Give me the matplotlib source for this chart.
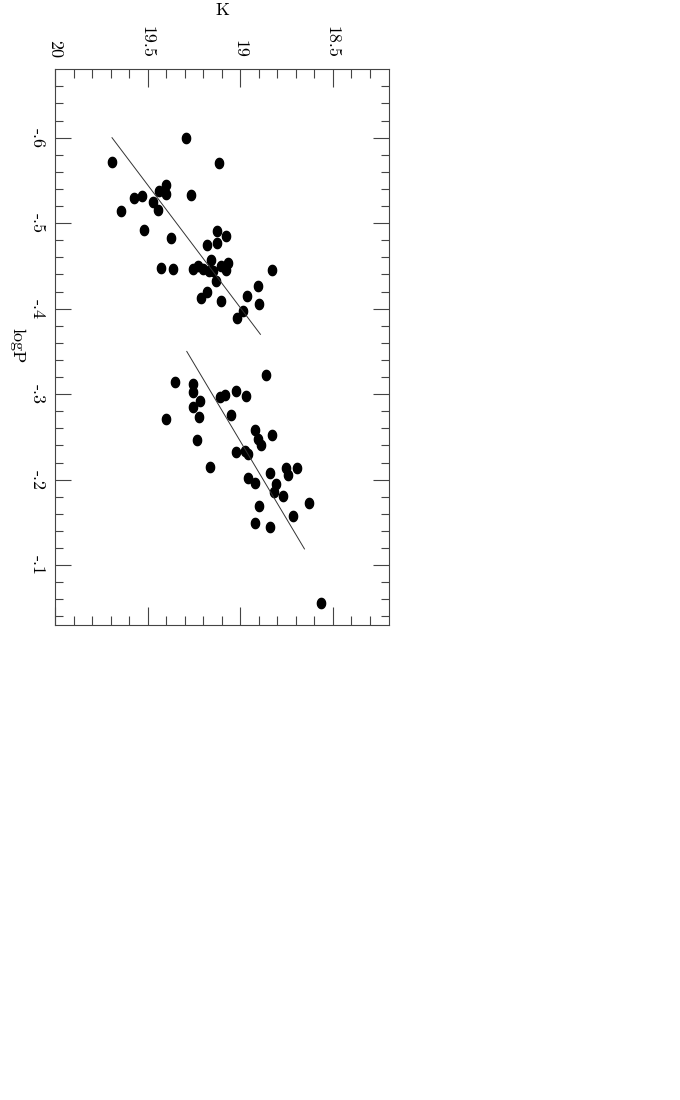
import numpy as np
import matplotlib
matplotlib.use('Agg')
import matplotlib.pyplot as plt
from matplotlib.path import Path

plt.rcParams['font.family'] = ['cmr10', 'DejaVu Serif']
plt.rcParams['axes.unicode_minus'] = False
plt.rcParams['axes.formatter.use_mathtext'] = True

# First group: K magnitude and logP
k_grp1 = [19.293, 19.692, 19.112, 19.400, 19.438, 19.400, 19.263, 19.575, 19.528, 19.472,
          19.643, 19.443, 19.520, 19.371, 19.124, 19.076, 19.180, 19.126, 19.158, 19.429,
          19.360, 19.252, 19.227, 19.202, 19.169, 19.144, 19.101, 19.065, 19.076, 18.829,
          19.128, 19.180, 19.213, 19.103, 18.901, 18.961, 18.899, 18.982, 19.015]
logp_grp1 = [-0.600, -0.572, -0.570, -0.545, -0.538, -0.534, -0.533, -0.530, -0.532, -0.525,
             -0.514, -0.516, -0.492, -0.483, -0.491, -0.485, -0.475, -0.477, -0.457, -0.448,
             -0.446, -0.446, -0.450, -0.446, -0.444, -0.444, -0.450, -0.454, -0.445, -0.445,
             -0.432, -0.420, -0.413, -0.409, -0.426, -0.415, -0.406, -0.397, -0.389]

# Second group
k_grp2 = [19.350, 19.252, 18.859, 19.252, 19.108, 19.079, 19.022, 18.969, 19.216, 19.252,
          19.402, 19.222, 19.051, 18.917, 18.829, 18.901, 19.232, 18.885, 19.024, 18.971,
          18.955, 19.161, 18.838, 18.753, 18.692, 18.742, 18.957, 18.917, 18.807, 18.816,
          18.769, 18.627, 18.899, 18.714, 18.919, 18.838, 18.564]
logp_grp2 = [-0.314, -0.312, -0.323, -0.302, -0.297, -0.299, -0.304, -0.298, -0.292, -0.285,
             -0.271, -0.273, -0.276, -0.258, -0.252, -0.247, -0.246, -0.240, -0.232, -0.233,
             -0.230, -0.215, -0.208, -0.214, -0.214, -0.205, -0.202, -0.196, -0.195, -0.186,
             -0.181, -0.173, -0.169, -0.158, -0.149, -0.145, -0.056]

# fitted PL relations (endpoints)
fit1_k = [19.692, 18.890]
fit1_logp = [-0.600, -0.370]
fit2_k = [19.288, 18.652]
fit2_logp = [-0.350, -0.119]

k_ticks = [20, 19.5, 19, 18.5]
k_labels = ['20', '19.5', '19', '18.5']
logp_ticks = [-0.6, -0.5, -0.4, -0.3, -0.2, -0.1]
logp_labels = ['-.6', '-.5', '-.4', '-.3', '-.2', '-.1']

# slightly tall ellipse marker
t = np.linspace(0, 2 * np.pi, 60)
ell = Path(np.column_stack([0.8 * np.cos(t), np.sin(t)]), closed=True)

fig = plt.figure(figsize=(6.8, 11), dpi=100)
ax = fig.add_axes([0.0809, 0.4318, 0.4912, 0.5052])

ax.plot(k_grp1, logp_grp1, ls='none', marker=ell, ms=7.4, color='black', mec='black')
ax.plot(k_grp2, logp_grp2, ls='none', marker=ell, ms=7.4, color='black', mec='black')
ax.plot(fit1_k, fit1_logp, color='#333333', lw=0.7)
ax.plot(fit2_k, fit2_logp, color='#333333', lw=0.7)

ax.set_xlim(20, 18.195)
ax.set_ylim(-0.03, -0.68)

ax.set_xticks(k_ticks)
ax.set_xticklabels(k_labels, rotation=-90)
ax.set_xticks(np.arange(18.3, 20.0, 0.1), minor=True)
ax.set_yticks(logp_ticks)
ax.set_yticklabels(logp_labels, rotation=-90, va='center')
ax.set_yticks(np.arange(-0.66, -0.03, 0.02), minor=True)

ax.tick_params(axis='both', which='both', direction='in', top=True, right=True,
               bottom=True, left=True, width=0.8, color='#444444')
ax.tick_params(axis='x', which='both', labeltop=True, labelbottom=False, labelsize=13, pad=8)
ax.tick_params(axis='y', which='both', labelleft=True, labelsize=13, pad=7)
ax.tick_params(axis='x', which='major', length=13)
ax.tick_params(axis='x', which='minor', length=6.8)
ax.tick_params(axis='y', which='major', length=11.5)
ax.tick_params(axis='y', which='minor', length=6)

for s in ax.spines.values():
    s.set_linewidth(0.8)
    s.set_color('#444444')

fig.text(222 / 680, 1 - 10 / 1100, 'K', ha='center', va='center', fontsize=13)
fig.text(17 / 680, 1 - 346 / 1100, 'logP', ha='center', va='center', fontsize=13, rotation=-90)

fig.savefig('out.png', dpi=100)
